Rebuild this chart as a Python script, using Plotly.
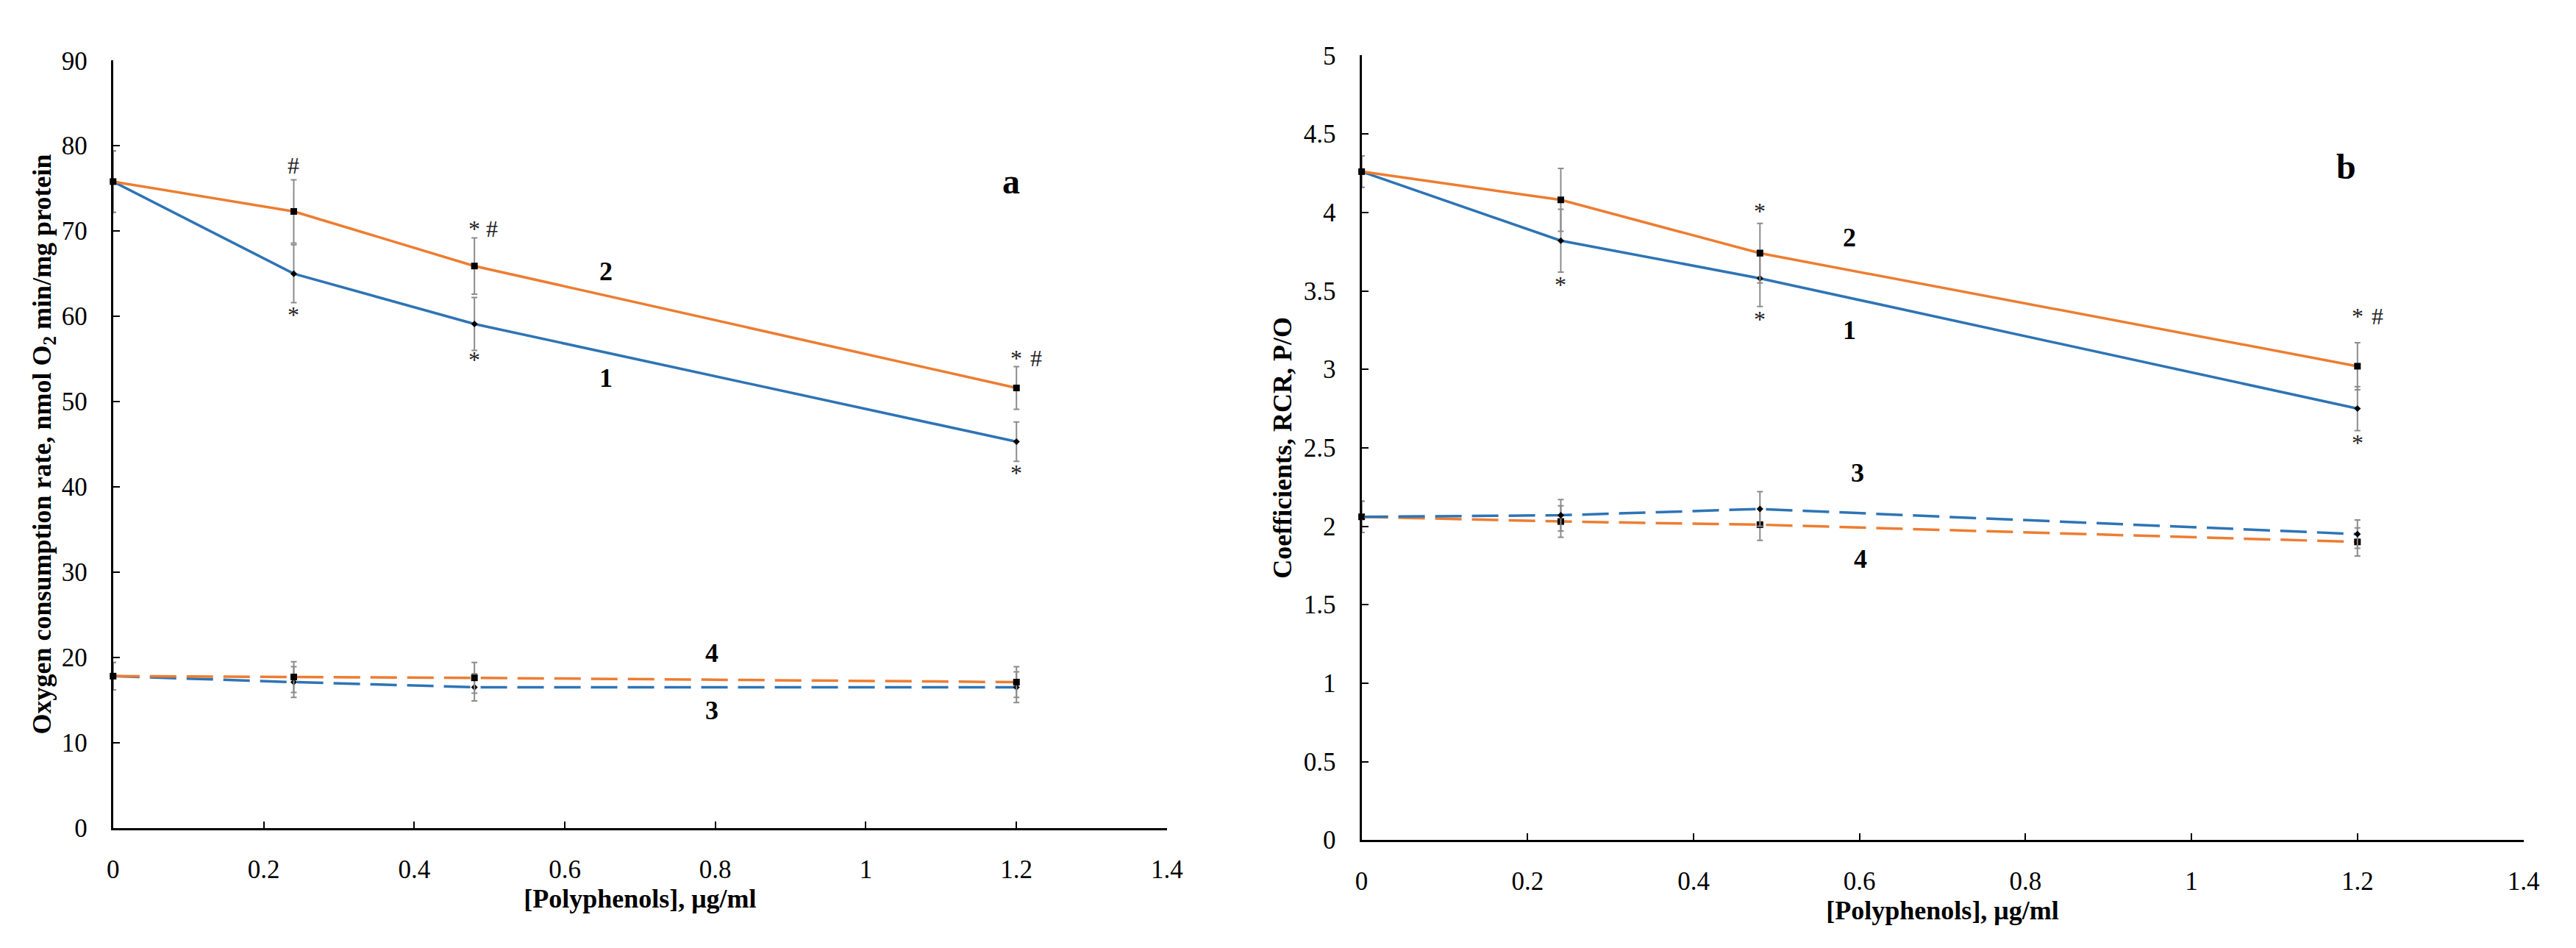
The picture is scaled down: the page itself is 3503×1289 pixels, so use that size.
import plotly.graph_objects as go

# ---------------- data ----------------
conc = [0, 0.24, 0.48, 1.2]

# panel a: oxygen consumption rate
a_curve1 = [75.8, 65.0, 59.1, 45.3]
a_curve1_err = [3.6, 3.4, 3.1, 2.3]
a_curve2 = [75.8, 72.3, 65.9, 51.6]
a_curve2_err = [3.6, 3.7, 3.3, 2.5]
a_curve3 = [17.8, 17.1, 16.5, 16.5]
a_curve3_err = [1.6, 1.8, 1.6, 1.8]
a_curve4 = [17.8, 17.7, 17.6, 17.1]
a_curve4_err = [1.6, 1.8, 1.8, 1.8]

# panel b: coefficients RCR, P/O
b_curve1 = [4.26, 3.82, 3.58, 2.75]
b_curve1_err = [0.1, 0.2, 0.18, 0.14]
b_curve2 = [4.26, 4.08, 3.74, 3.02]
b_curve2_err = [0.1, 0.2, 0.19, 0.15]
b_curve3 = [2.06, 2.07, 2.11, 1.95]
b_curve3_err = [0.1, 0.1, 0.11, 0.09]
b_curve4 = [2.06, 2.03, 2.01, 1.90]
b_curve4_err = [0.1, 0.1, 0.1, 0.09]

x_ticks = [0, 0.2, 0.4, 0.6, 0.8, 1, 1.2, 1.4]
x_ticktext = ["0", "0.2", "0.4", "0.6", "0.8", "1", "1.2", "1.4"]
a_yticks = [0, 10, 20, 30, 40, 50, 60, 70, 80, 90]
a_yticktext = ["0", "10", "20", "30", "40", "50", "60", "70", "80", "90"]
b_yticks = [0, 0.5, 1, 1.5, 2, 2.5, 3, 3.5, 4, 4.5, 5]
b_yticktext = ["0", "0.5", "1", "1.5", "2", "2.5", "3", "3.5", "4", "4.5", "5"]

# curve labels: (text, x, y)
a_labels = [("1", 0.655, 52.8), ("2", 0.655, 65.3), ("3", 0.795, 13.8), ("4", 0.795, 20.5)]
b_labels = [("1", 0.588, 3.25), ("2", 0.588, 3.84), ("3", 0.598, 2.34), ("4", 0.601, 1.79)]
# significance marks: (text, x, y)
a_marks = [("#", 0.24, 77.7), ("*", 0.24, 60.2), ("*", 0.48, 70.3), ("#", 0.503, 70.3),
           ("*", 0.48, 54.9), ("*", 1.2, 55.1), ("#", 1.226, 55.1), ("*", 1.2, 41.6)]
b_marks = [("*", 0.24, 3.54), ("*", 0.48, 4.01), ("*", 0.48, 3.32),
           ("*", 1.2, 3.34), ("#", 1.224, 3.34), ("*", 1.2, 2.53)]

BLUE = "#2E74B5"
ORANGE = "#ED7D31"
ERR = "#8C8C8C"
FONT = "Liberation Serif"

W, H = 3503, 1289

fig = go.Figure()


def add_series(x, y, err, color, dash, symbol, msize, xa, ya):
    fig.add_trace(go.Scatter(
        x=x, y=y, mode="lines+markers",
        line=dict(color=color, width=3.5, dash=dash),
        marker=dict(symbol=symbol, size=msize, color="black"),
        error_y=dict(type="data", array=err, visible=True, color=ERR, thickness=2, width=4),
        xaxis=xa, yaxis=ya, showlegend=False, cliponaxis=False))


DASH = "36px,14px"
add_series(conc, a_curve3, a_curve3_err, BLUE, DASH, "diamond", 7, "x", "y")
add_series(conc, a_curve4, a_curve4_err, ORANGE, DASH, "square", 9, "x", "y")
add_series(conc, a_curve1, a_curve1_err, BLUE, "solid", "diamond", 7, "x", "y")
add_series(conc, a_curve2, a_curve2_err, ORANGE, "solid", "square", 9, "x", "y")

add_series(conc, b_curve4, b_curve4_err, ORANGE, DASH, "square", 9, "x2", "y2")
add_series(conc, b_curve3, b_curve3_err, BLUE, DASH, "diamond", 7, "x2", "y2")
add_series(conc, b_curve1, b_curve1_err, BLUE, "solid", "diamond", 7, "x2", "y2")
add_series(conc, b_curve2, b_curve2_err, ORANGE, "solid", "square", 9, "x2", "y2")

axis_common = dict(
    showline=True, linecolor="black", linewidth=3, ticks="inside", ticklen=9,
    tickwidth=2, tickcolor="black", showgrid=False, zeroline=False,
    tickfont=dict(family=FONT, size=35, color="black"),
)

left_x = [138 / W, 1584 / W]
left_y = [1 - 1133 / H, 1 - 57 / H]
right_x = [1851 / W, 3445 / W]
right_y = [1 - 1150 / H, 1 - 50 / H]

title_font = dict(family=FONT, size=36, color="black")

fig.update_layout(
    width=W, height=H,
    margin=dict(l=0, r=0, t=0, b=0),
    paper_bgcolor="white", plot_bgcolor="white",
    font=dict(family=FONT, color="black"),
    xaxis=dict(domain=left_x, anchor="y", range=[0, 1.4], tickvals=x_ticks, ticktext=x_ticktext,
               ticklabelstandoff=23,
               title=dict(text="<b>[Polyphenols], μg/ml</b>", font=title_font, standoff=8),
               **axis_common),
    yaxis=dict(domain=left_y, anchor="x", range=[0, 90], tickvals=a_yticks, ticktext=a_yticktext,
               ticklabelstandoff=25,
               title=dict(text="<b>Oxygen consumption rate, nmol O<sub>2</sub> min/mg protein</b>",
                          font=title_font, standoff=4),
               **axis_common),
    xaxis2=dict(domain=right_x, anchor="y2", range=[0, 1.4], tickvals=x_ticks, ticktext=x_ticktext,
                ticklabelstandoff=23,
                title=dict(text="<b>[Polyphenols], μg/ml</b>", font=title_font, standoff=8),
                **axis_common),
    yaxis2=dict(domain=right_y, anchor="x2", range=[0, 5], tickvals=b_yticks, ticktext=b_yticktext,
                ticklabelstandoff=25,
                title=dict(text="<b>Coefficients, RCR, P/O</b>", font=title_font, standoff=6),
                **axis_common),
)

ann = []
for t, x, y in a_labels:
    ann.append(dict(x=x, y=y, xref="x", yref="y", text=f"<b>{t}</b>", showarrow=False,
                    font=dict(family=FONT, size=36, color="black")))
for t, x, y in b_labels:
    ann.append(dict(x=x, y=y, xref="x2", yref="y2", text=f"<b>{t}</b>", showarrow=False,
                    font=dict(family=FONT, size=36, color="black")))
for t, x, y in a_marks:
    ann.append(dict(x=x, y=y, xref="x", yref="y", text=t, showarrow=False,
                    font=dict(family=FONT, size=32, color="#222222")))
for t, x, y in b_marks:
    ann.append(dict(x=x, y=y, xref="x2", yref="y2", text=t, showarrow=False,
                    font=dict(family=FONT, size=32, color="#222222")))
ann.append(dict(x=1.193, y=75.8, xref="x", yref="y", text="<b>a</b>", showarrow=False,
                font=dict(family=FONT, size=48, color="black")))
ann.append(dict(x=1.186, y=4.29, xref="x2", yref="y2", text="<b>b</b>", showarrow=False,
                font=dict(family=FONT, size=48, color="black")))
fig.update_layout(annotations=ann)

fig.write_html("out.html")
